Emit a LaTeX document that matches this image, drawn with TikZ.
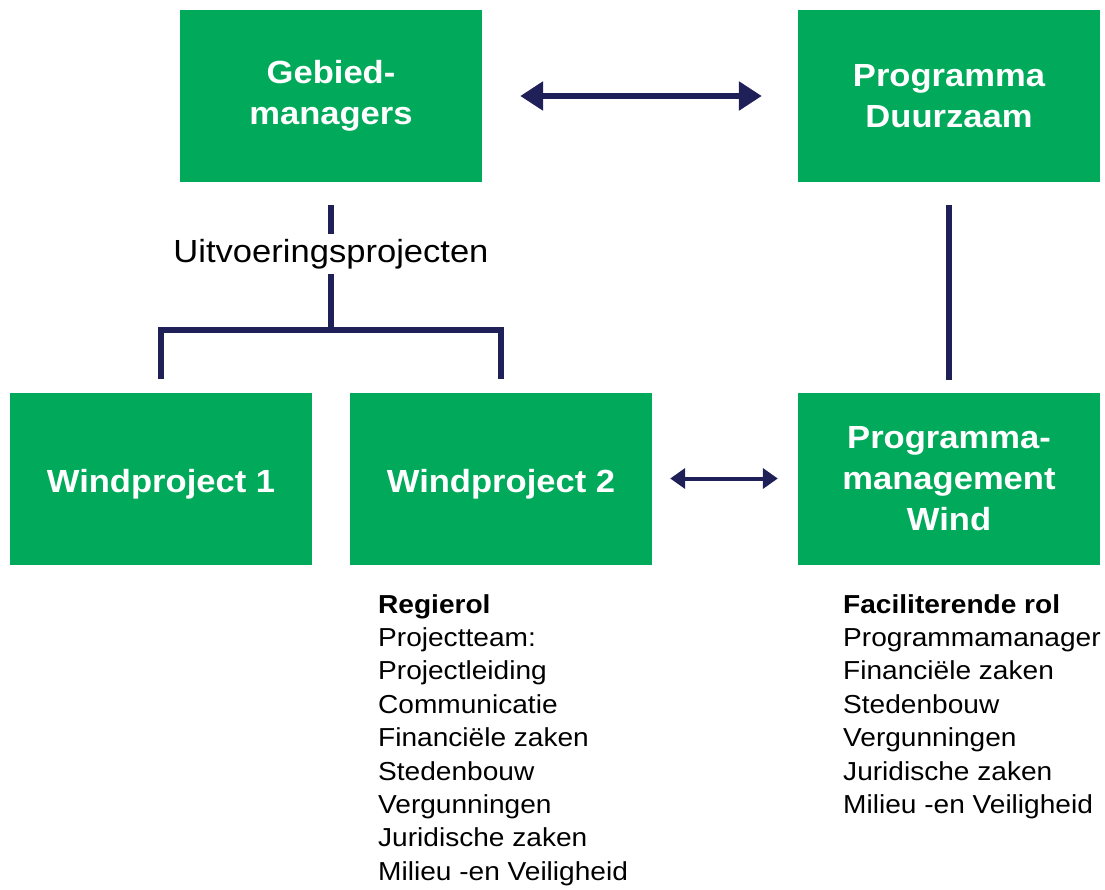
\documentclass[tikz,border=0pt]{standalone}
\usepackage{fontspec}
\setmainfont{Liberation Sans}[FakeStretch=1.08]
\usetikzlibrary{arrows.meta}
\definecolor{groen}{RGB}{0,170,90}
\definecolor{navy}{RGB}{31,32,88}
\begin{document}
\begin{tikzpicture}[
            x = 1pt, y = -1pt,
            box/.style = {fill = groen, text = white, minimum width = 302pt, minimum height = 172pt, inner sep = 0pt, align = center, font = \fontsize{32}{41}\selectfont\bfseries},
            lijst/.style = {anchor = north west, inner sep = 0pt, align = left, font = \fontsize{26}{33.4}\selectfont},
            lbl/.style = {fill = white, inner xsep = 2pt, inner ysep = 5pt, font = \fontsize{32}{38}\selectfont},
            conn/.style = {draw = navy, line width = 6pt},
            arr/.style = {draw = navy, line width = 6pt, {Triangle[length=23pt, width=28pt]}-{Triangle[length=23pt, width=28pt]}},
            smallarr/.style = {draw = navy, line width = 4pt, {Triangle[length=15pt, width=20pt]}-{Triangle[length=15pt, width=20pt]}},
        ]
        \useasboundingbox (0,0) rectangle (1105,889);

        \node (gebied) [box] at (331, 96) {Gebied-\\managers};
        \node (duurzaam) [box] at (949, 96) {Programma\\Duurzaam};
        \node (wind1) [box, text height = 28pt, text depth = 0pt] at (161, 478.5) {Windproject 1};
        \node (wind2) [box, text height = 28pt, text depth = 0pt] at (501, 478.5) {Windproject 2};
        \node (pmwind) [box] at (949, 478.5) {Programma-\\management\\Wind};

        \coordinate (split) at (331, 329.5);

        \path[arr, shorten <= 38pt, shorten >= 36pt] (gebied.east) -- (duurzaam.west);
        \path[smallarr, shorten <= 18pt, shorten >= 20pt] (wind2.east) -- (pmwind.west);

        \path[conn, shorten <= 23pt] (gebied.south) -- node (uitv) [lbl, pos = 0.49] {Uitvoeringsprojecten} (split);
        \path[conn, shorten <= 13pt, shorten >= 13pt] (wind1.north) |- (split) -| (wind2.north);
        \path[conn, shorten <= 23pt, shorten >= 12pt] (duurzaam.south) -- (pmwind.north);

        \node (regie) [lijst] at (378, 594) {\textbf{Regierol}\\Projectteam:\\Projectleiding\\Communicatie\\Financiële zaken\\Stedenbouw\\Vergunningen\\Juridische zaken\\Milieu -en Veiligheid};
        \node (facil) [lijst] at (843, 594) {\textbf{Faciliterende rol}\\Programmamanager\\Financiële zaken\\Stedenbouw\\Vergunningen\\Juridische zaken\\Milieu -en Veiligheid};
    \end{tikzpicture}
\end{document}
